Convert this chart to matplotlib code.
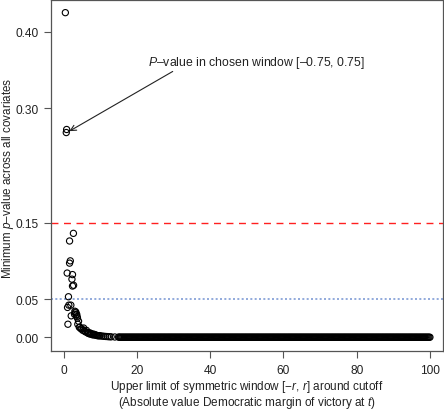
import numpy as np
import matplotlib
matplotlib.use('Agg')
import matplotlib.pyplot as plt

plt.rcParams['font.family'] = ['Liberation Sans', 'DejaVu Sans']
plt.rcParams['mathtext.fontset'] = 'custom'
plt.rcParams['mathtext.rm'] = 'Liberation Sans'
plt.rcParams['mathtext.it'] = 'Liberation Sans:italic'

# windows with visibly separate points
early_r = [0.5, 0.75, 0.85, 1.0, 1.1, 1.2, 1.35, 1.45, 1.65, 1.65, 1.85, 2.0, 2.1,
           2.3, 2.45, 2.45, 2.7, 2.75, 3.0, 3.1, 3.2, 3.35, 3.45, 3.6, 3.7, 3.8,
           3.9, 4.1, 4.3, 4.5, 4.75, 5.0]
early_p = [0.425, 0.268, 0.272, 0.084, 0.039, 0.017, 0.053, 0.042, 0.126, 0.097,
           0.100, 0.042, 0.028, 0.076, 0.082, 0.067, 0.136, 0.068, 0.030, 0.034,
           0.032, 0.033, 0.029, 0.030, 0.027, 0.025, 0.017, 0.021, 0.013, 0.013,
           0.011, 0.011]

# decay region
decay_r = [5.25, 5.5, 5.75, 6.0, 6.25, 6.5, 6.75, 7.0, 7.25, 7.5, 7.75, 8.0, 8.25,
           8.5, 8.75, 9.0, 9.25, 9.5, 9.75, 10.0, 10.5, 11.0, 11.5, 12.0, 12.5,
           13.0, 14.0, 15.0]
decay_p = [0.009, 0.012, 0.008, 0.007, 0.009, 0.006, 0.005, 0.006, 0.004, 0.005,
           0.004, 0.003, 0.004, 0.003, 0.003, 0.0025, 0.002, 0.002, 0.002, 0.0018,
           0.0015, 0.0012, 0.001, 0.0008, 0.0006, 0.0005, 0.0003, 0.0002]

# flat tail: every window from 15.25 to 100 reads as 0.00
tail_r = list(np.arange(15.25, 100.01, 0.25))
tail_p = [0.0] * len(tail_r)

r_all = early_r + decay_r + tail_r
p_all = early_p + decay_p + tail_p

yticks = [0.00, 0.05, 0.15, 0.30, 0.40]
xticks = [0, 20, 40, 60, 80, 100]

fig = plt.figure(figsize=(4.44, 4.10), dpi=100)
ax = fig.add_axes([0.115, 0.141, 0.883, 0.857])

ax.scatter(r_all, p_all, s=20, facecolors='none', edgecolors='black', linewidths=0.8, zorder=3)
ax.axhline(0.15, color='#ff2020', lw=1.0, dashes=(5, 4))
ax.axhline(0.05, color='#7f9cd6', lw=1.2, dashes=(1.2, 1.4))

# label and arrow to the chosen window
ax.text(23.0, 0.361, '$P$–value in chosen window [–0.75, 0.75]', fontsize=8.8,
        ha='left', va='center', color='#222222')
ax.annotate('', xy=(0.95, 0.268), xytext=(29.8, 0.348),
            arrowprops=dict(arrowstyle='->', color='#222222', lw=0.8,
                            shrinkA=0, shrinkB=2, mutation_scale=10))

ax.set_xlim(-3.4, 103.6)
ax.set_ylim(-0.0183, 0.4418)
ax.set_xticks(xticks)
ax.set_yticks(yticks)
ax.set_yticklabels(['%.2f' % v for v in yticks])
ax.tick_params(direction='out', length=5, width=0.8, color='#555555', labelsize=8.6,
               labelcolor='#222222', pad=4)
for sp in ax.spines.values():
    sp.set_color('#555555')
    sp.set_linewidth(0.9)

fig.text(8 / 444, 1 - 178 / 410, 'Minimum $p$–value across all covariates', fontsize=8.4,
         color='#222222', rotation=90, ha='center', va='center')
fig.text(247 / 444, 1 - 395 / 410,
         'Upper limit of symmetric window [−$r$, $r$] around cutoff\n'
         '(Absolute value Democratic margin of victory at $t$)',
         fontsize=8.5, color='#222222', ha='center', va='center', linespacing=1.0)

fig.savefig('out.png', dpi=100)
